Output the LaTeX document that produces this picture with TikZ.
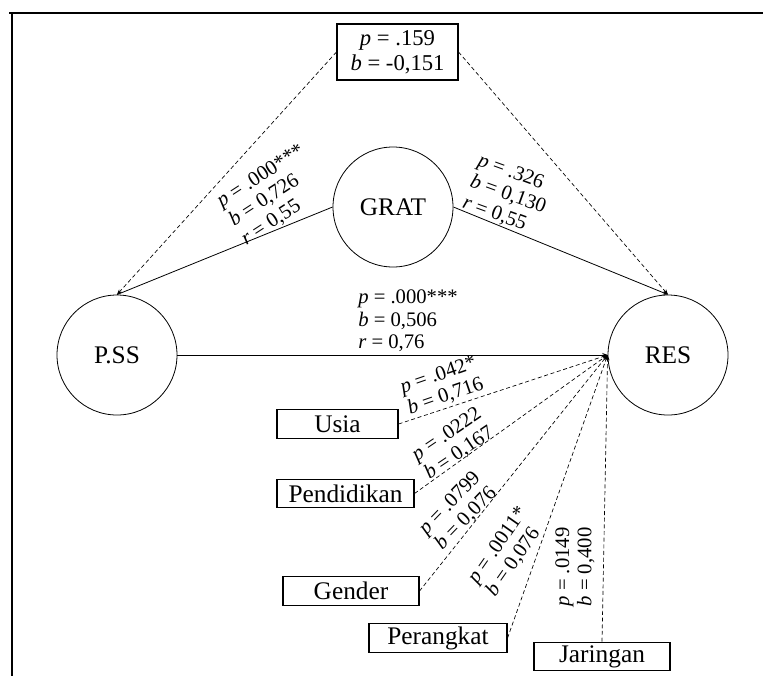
\documentclass[tikz,border=0pt]{standalone}
\usepackage{fontspec}
\setmainfont{Liberation Serif}
\usetikzlibrary{arrows.meta}
\tikzset{
  bulat/.style={draw, circle, minimum size=90pt, inner sep=0pt, line width=0.6pt, font=\fontsize{19}{21}\selectfont},
  kotak/.style={draw, rectangle, minimum width=#1*0.75pt, minimum height=21.5pt, inner sep=0pt, line width=0.8pt, font=\fontsize{19}{21}\selectfont},
  ket/.style={align=left, inner sep=0pt, font=\fontsize{15.5}{16.8}\selectfont},
  putus/.style={dash pattern=on 3pt off 2pt, line width=0.5pt},
  garis/.style={line width=0.6pt},
  ujung/.style={-{Stealth[length=4pt,width=3pt]}}
}
\begin{document}
\begin{tikzpicture}[x=0.75pt,y=-0.75pt]
\useasboundingbox (0,0) rectangle (763,676);
\draw[line width=1.5pt] (9,13) -- (763,13); % bingkai atas
\draw[line width=1.5pt] (12,13) -- (12,676); % bingkai kiri
% variabel utama
\node[bulat] (pss) at (117,355) {P.SS};
\node[bulat] (grat) at (393,207) {GRAT};
\node[bulat] (res) at (668,355) {RES};
\node[kotak=121, minimum height=42pt, align=center, font=\fontsize{17}{19}\selectfont] (atas) at (397.5,52) {\textit{p} = .159\\ \textit{b} = -0,151};
% variabel kontrol
\node[kotak=121] (usia) at (337.5,424) {Usia};
\node[kotak=137] (didik) at (345.5,493.5) {Pendidikan};
\node[kotak=136] (gender) at (351,591) {Gender};
\node[kotak=138] (perangkat) at (438,638) {Perangkat};
\node[kotak=136] (jaringan) at (602,656.5) {Jaringan};
% jalur
\draw[garis] (pss.north) -- (grat.west);
\draw[garis, ujung] (grat.east) -- (res.north);
\draw[garis, ujung] (pss.east) -- (res.west);
\draw[putus, ujung] (atas.west) -- (pss.north);
\draw[putus, ujung] (atas.east) -- (res.north);
\draw[putus, ujung] (usia.east) -- (res.west);
\draw[putus, ujung] (didik.east) -- (res.west);
\draw[putus, ujung] (gender.east) -- (res.west);
\draw[putus, ujung] (perangkat.east) -- (res.west);
\draw[putus, ujung] (jaringan.north) -- (res.west);
% koefisien
\node[ket, rotate=33] (k1) at (273,195) {\textit{p} = .000***\\ \textit{b} = 0,726\\ \textit{r} = 0,55};
\node[ket, rotate=-20] (k2) at (508,195) {\textit{p} = .326\\ \textit{b} = 0,130\\ \textit{r} = 0,55};
\node[ket, anchor=west] (k3) at (358,321) {\textit{p} = .000***\\ \textit{b} = 0,506\\ \textit{r} = 0,76};
\node[ket, rotate=19] (k4) at (442,386) {\textit{p} = .042*\\ \textit{b} = 0,716};
\node[ket, rotate=34] (k5) at (453,444) {\textit{p} = .0222\\ \textit{b} = 0,167};
\node[ket, rotate=46] (k6) at (458,511) {\textit{p} = .0799\\ \textit{b} = 0,076};
\node[ket, rotate=55] (k7) at (507,552) {\textit{p} = .0011*\\ \textit{b} = 0,076};
\node[ket, rotate=90] (k8) at (575,567) {\textit{p} = .0149\\ \textit{b} = 0,400};
\end{tikzpicture}
\end{document}
